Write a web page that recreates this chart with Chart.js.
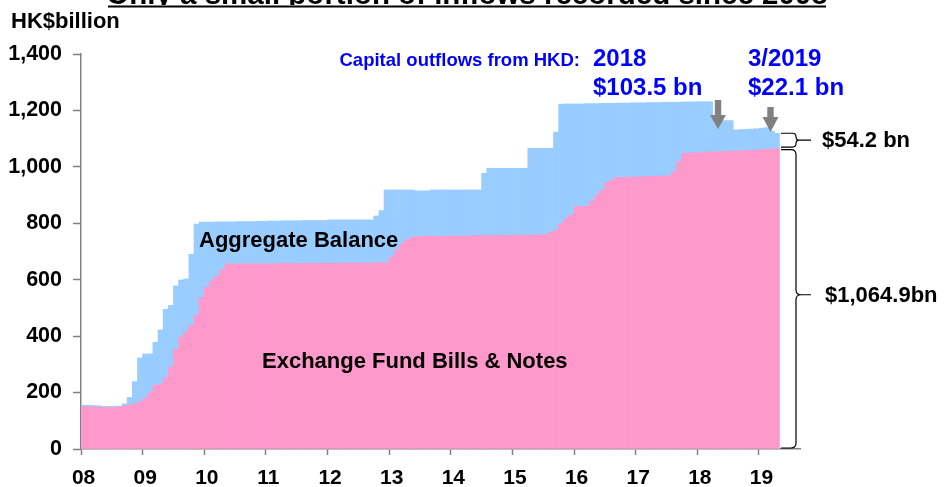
<!DOCTYPE html>
<html>
<head>
<meta charset="utf-8">
<script src="https://cdn.jsdelivr.net/npm/chart.js@4.4.1/dist/chart.umd.min.js"></script>
<style>
  html, body { margin: 0; padding: 0; background: #fff; }
  #wrap { width: 944px; height: 487px; }
</style>
</head>
<body>
<div id="wrap"><canvas id="chart" width="944" height="487"></canvas></div>
<script>
// HK$ billion, monthly from Jan 2008 to Apr 2019
const startYear = 2008;
const axisMonths = 140; // axis runs on a few months past the data

const yearLabels = ['08', '09', '10', '11', '12', '13', '14', '15', '16', '17', '18', '19'];
const yTicks = [0, 200, 400, 600, 800, 1000, 1200, 1400];

// Exchange Fund Bills & Notes
const efbn = [
    150, 150, 149, 148, 147, 147, 147, 148, 152, 156, 160, 166,
    180, 200, 226, 230, 253, 290, 353, 396, 416, 438, 474, 538,
    573, 597, 613, 635, 656, 656, 656, 656, 656, 656, 656, 656,
    656, 656, 657, 657, 657, 657, 657, 657, 657, 657, 658, 658,
    658, 658, 658, 658, 659, 659, 659, 659, 659, 660, 660, 660,
    680, 705, 727, 741, 750, 753, 753, 754, 754, 754, 754, 755,
    755, 755, 755, 755, 756, 756, 756, 756, 756, 756, 756, 757,
    757, 757, 757, 758, 758, 759, 759, 768, 776, 798, 818, 830,
    859, 859, 860, 879, 900, 918, 944, 954, 963, 963, 964, 964,
    965, 965, 966, 966, 967, 967, 968, 983, 1019, 1048, 1049, 1050,
    1051, 1052, 1052, 1053, 1054, 1055, 1055, 1056, 1057, 1058, 1059, 1059,
    1061, 1062, 1063, 1064.9
];

// Aggregate Balance
const aggBal = [
    5, 5, 5, 5, 4, 4, 4, 4, 8, 27, 79, 157,
    157, 137, 152, 192, 242, 219, 225, 203, 187, 252, 323, 266,
    231, 207, 192, 170, 149, 149, 150, 150, 150, 150, 151, 151,
    152, 152, 151, 152, 152, 152, 152, 153, 153, 153, 152, 152,
    154, 154, 154, 154, 153, 153, 153, 153, 153, 166, 185, 258,
    238, 213, 191, 177, 168, 162, 162, 161, 164, 164, 164, 163,
    163, 163, 163, 163, 162, 162, 221, 239, 239, 239, 239, 238,
    238, 238, 238, 308, 308, 307, 307, 298, 347, 424, 405, 393,
    364, 364, 364, 345, 324, 307, 281, 271, 263, 263, 262, 263,
    262, 262, 262, 262, 261, 262, 261, 246, 210, 182, 181, 180,
    180, 179, 179, 122, 110, 109, 109, 75, 75, 75, 75, 76,
    76, 77, 64, 54.2
];

const monthLabels = [];
for (let i = 0; i < axisMonths; i++) {
    monthLabels.push((startYear + Math.floor(i / 12)) + '-' + (i % 12 + 1));
}

const FONT = "'Liberation Sans', Arial, sans-serif";
const axisGray = '#808080';
const blueText = '#0000FF';

function withCommas(v) {
    return String(v).replace(/\B(?=(\d{3})+(?!\d))/g, ',');
}

function drawBrace(ctx, x0, yTop, yBot, yMid, w, tail) {
    const r = Math.min(5, (yBot - yTop) / 4);
    const xv = x0 + w;
    ctx.beginPath();
    ctx.moveTo(x0, yTop);
    ctx.lineTo(xv - r, yTop);
    ctx.quadraticCurveTo(xv, yTop, xv, yTop + r);
    ctx.lineTo(xv, yMid - r);
    ctx.quadraticCurveTo(xv, yMid, xv + r, yMid);
    ctx.quadraticCurveTo(xv, yMid, xv, yMid + r);
    ctx.lineTo(xv, yBot - r);
    ctx.quadraticCurveTo(xv, yBot, xv - r, yBot);
    ctx.lineTo(x0, yBot);
    ctx.moveTo(xv + r, yMid);
    ctx.lineTo(xv + tail, yMid);
    ctx.stroke();
}

function drawArrow(ctx, cx, top, neck, tip) {
    ctx.beginPath();
    ctx.moveTo(cx - 3.2, top);
    ctx.lineTo(cx + 3.2, top);
    ctx.lineTo(cx + 3.2, neck);
    ctx.lineTo(cx + 8, neck);
    ctx.lineTo(cx, tip);
    ctx.lineTo(cx - 8, neck);
    ctx.lineTo(cx - 3.2, neck);
    ctx.closePath();
    ctx.fill();
}

const notes = {
    id: 'notes',
    afterDraw(chart) {
        const ctx = chart.ctx;
        const ys = chart.scales.y;
        const last = efbn.length - 1;
        ctx.save();

        // title, mostly cut off by the top edge
        ctx.save();
        ctx.beginPath();
        ctx.rect(0, 0, 944, 5);
        ctx.clip();
        ctx.fillStyle = '#000';
        ctx.font = 'bold 29.5px ' + FONT;
        ctx.textAlign = 'center';
        ctx.textBaseline = 'alphabetic';
        ctx.fillText('Only a small portion of inflows recorded since 2008', 467, 4);
        ctx.restore();
        ctx.fillStyle = '#000';
        ctx.fillRect(108, 5.5, 718, 2);

        ctx.textAlign = 'left';
        ctx.textBaseline = 'alphabetic';
        ctx.font = 'bold 22px ' + FONT;
        ctx.fillText('HK$billion', 11, 28);

        ctx.font = 'bold 22px ' + FONT;
        ctx.fillText('Aggregate Balance', 199, 247);
        ctx.fillText('Exchange Fund Bills & Notes', 262, 368);

        ctx.fillStyle = blueText;
        ctx.font = 'bold 18.5px ' + FONT;
        ctx.textAlign = 'right';
        ctx.fillText('Capital outflows from HKD:', 580, 66);
        ctx.textAlign = 'left';
        ctx.font = 'bold 24px ' + FONT;
        ctx.fillText('2018', 593, 66);
        ctx.fillText('$103.5 bn', 593, 95);
        ctx.fillText('3/2019', 748, 66);
        ctx.fillText('$22.1 bn', 748, 95);

        ctx.fillStyle = axisGray;
        drawArrow(ctx, 718, 100, 115, 129);
        drawArrow(ctx, 770.5, 107, 117, 132);

        // braces beside the last month
        const total = efbn[last] + aggBal[last];
        const yTot = ys.getPixelForValue(total);
        const yEf = ys.getPixelForValue(efbn[last]);
        const yZero = ys.getPixelForValue(0);
        ctx.strokeStyle = '#000';
        ctx.lineWidth = 1.2;
        drawBrace(ctx, 781, yTot, yEf - 1.5, (yTot + yEf - 1.5) / 2, 15, 15);
        drawBrace(ctx, 781, yEf + 1, yZero - 1, (yEf + yZero) / 2 - 4, 15, 15);

        ctx.fillStyle = '#000';
        ctx.font = 'bold 22px ' + FONT;
        ctx.fillText('$54.2 bn', 822, 147);
        ctx.fillText('$1,064.9bn', 825, 302);

        ctx.restore();
    }
};

new Chart(document.getElementById('chart').getContext('2d'), {
    type: 'bar',
    data: {
        labels: monthLabels,
        datasets: [
            {label: 'Exchange Fund Bills & Notes', data: efbn, backgroundColor: '#FF99CC'},
            {label: 'Aggregate Balance', data: aggBal, backgroundColor: '#99CCFF'}
        ]
    },
    options: {
        responsive: false,
        animation: false,
        layout: {padding: {top: 54, right: 144, bottom: 0, left: 0}},
        plugins: {legend: {display: false}, tooltip: {enabled: false}},
        datasets: {bar: {barPercentage: 1, categoryPercentage: 1, borderWidth: 0}},
        scales: {
            x: {
                stacked: true,
                grid: {
                    drawOnChartArea: false,
                    offset: true,
                    tickLength: 6,
                    tickWidth: 1.5,
                    tickColor: c => (c.index % 12 === 0 ? axisGray : 'rgba(0,0,0,0)')
                },
                border: {color: axisGray, width: 1.5},
                ticks: {
                    autoSkip: false,
                    maxRotation: 0,
                    padding: 11,
                    color: '#000',
                    font: {family: FONT, size: 21, weight: 'bold'},
                    callback: (v, i) => (i % 12 === 0 ? yearLabels[i / 12] : '')
                },
                afterFit: s => { s.height = 38; }
            },
            y: {
                stacked: true,
                min: yTicks[0],
                max: yTicks[yTicks.length - 1],
                afterBuildTicks: s => { s.ticks = yTicks.map(v => ({value: v})); },
                grid: {drawOnChartArea: false, tickLength: 8, tickWidth: 1.5, tickColor: axisGray},
                border: {color: axisGray, width: 1.5},
                ticks: {
                    padding: 11,
                    color: '#000',
                    font: {family: FONT, size: 21.5, weight: 'bold'},
                    callback: v => withCommas(v)
                },
                afterFit: s => { s.width = 81; }
            }
        }
    },
    plugins: [notes]
});
</script>
</body>
</html>
